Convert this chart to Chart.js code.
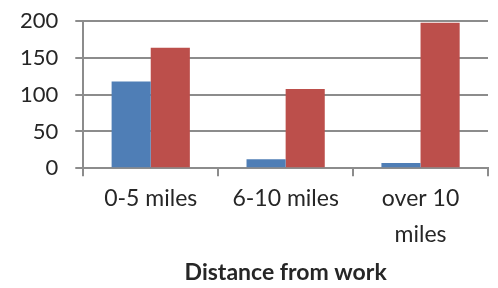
<!DOCTYPE html>
<html>
<head>
<meta charset="utf-8">
<script src="https://cdn.jsdelivr.net/npm/chart.js@4"></script>
<style>
  html, body { margin: 0; padding: 0; background: #fff; }
  #wrap { width: 498px; height: 288px; }
</style>
</head>
<body>
<div id="wrap"><canvas id="distChart"></canvas></div>
<script>
// --- data ---
const categories = ['0-5 miles', '6-10 miles', ['over 10', 'miles']];
const seriesA = [118, 12, 7];
const seriesB = [164, 108, 198];
const yTicks = [0, 50, 100, 150, 200];

const gridGray = '#8c8c8c';
const textColor = '#262626';

const ctx = document.getElementById('distChart').getContext('2d');
new Chart(ctx, {
    type: 'bar',
    data: {
        labels: categories,
        datasets: [
            { data: seriesA, backgroundColor: '#4F7EB6' },
            { data: seriesB, backgroundColor: '#BC4F4B' }
        ]
    },
    options: {
        responsive: true,
        maintainAspectRatio: false,
        animation: false,
        layout: { padding: { top: 0, right: 10, left: 3, bottom: 2 } },
        plugins: {
            legend: { display: false },
            tooltip: { enabled: false }
        },
        datasets: {
            bar: { categoryPercentage: 0.58, barPercentage: 1.0 }
        },
        scales: {
            x: {
                offset: true,
                grid: {
                    offset: true,
                    drawOnChartArea: false,
                    drawTicks: true,
                    tickLength: 8,
                    color: gridGray,
                    lineWidth: 2
                },
                border: { color: gridGray, width: 2 },
                ticks: {
                    color: textColor,
                    font: { family: 'Lato', size: 23, lineHeight: 1.57 },
                    padding: 4,
                    maxRotation: 0
                },
                title: {
                    display: true,
                    text: 'Distance from work',
                    color: textColor,
                    font: { family: 'Lato', size: 23, weight: 'bold' },
                    padding: { top: 2, bottom: 0 }
                }
            },
            y: {
                min: 0,
                max: 200,
                afterBuildTicks: (axis) => { axis.ticks = yTicks.map(v => ({ value: v })); },
                grid: {
                    color: gridGray,
                    lineWidth: 2,
                    tickLength: 8
                },
                border: { color: gridGray, width: 2 },
                ticks: {
                    color: textColor,
                    // small lineHeight keeps the top gap tight; labels are single-line
                    font: { family: 'Lato', size: 22, lineHeight: 0.4 },
                    padding: 17
                }
            }
        }
    }
});
</script>
</body>
</html>
